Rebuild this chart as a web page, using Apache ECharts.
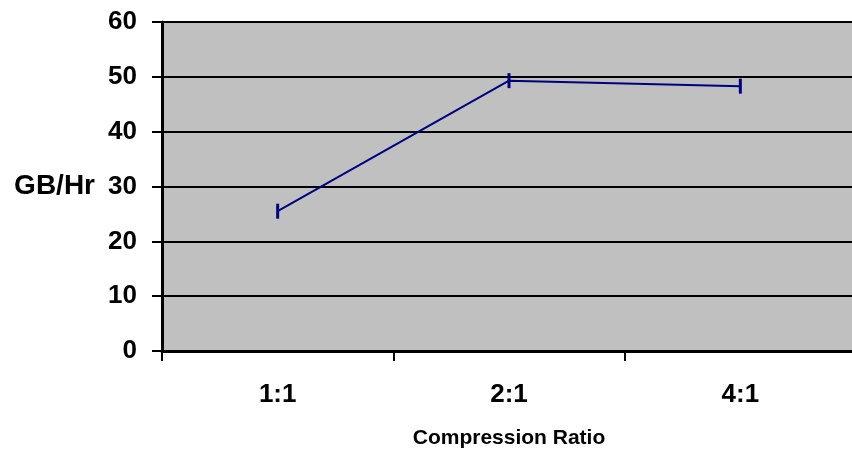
<!DOCTYPE html>
<html>
<head>
<meta charset="utf-8">
<script src="https://cdn.jsdelivr.net/npm/echarts@6/dist/echarts.min.js"></script>
<style>
  html, body { margin: 0; padding: 0; background: #ffffff; }
  #chart { width: 852px; height: 451px; }
</style>
</head>
<body>
<div id="chart"></div>
<script>
// Throughput by compression ratio
const ratios = ['1:1', '2:1', '4:1'];
const gbPerHour = [25.5, 49.3, 48.3];
const yTicks = { min: 0, max: 60, step: 10 };

const chart = echarts.init(document.getElementById('chart'), null, { renderer: 'canvas' });
const font = 'Liberation Sans, Arial, sans-serif';

chart.setOption({
  animation: false,
  backgroundColor: '#ffffff',
  grid: {
    left: 162, top: 22, width: 694, height: 329,
    outerBoundsMode: 'none',
    containLabel: false,
    show: true, backgroundColor: '#c0c0c0', borderWidth: 0
  },
  xAxis: {
    type: 'category',
    data: ratios,
    boundaryGap: true,
    axisLine: { lineStyle: { color: '#000', width: 3 } },
    axisTick: { show: true, length: 10, lineStyle: { color: '#000', width: 2 } },
    axisLabel: { color: '#000', fontFamily: font, fontWeight: 'bold', fontSize: 26, margin: 31 },
    splitLine: { show: false },
    name: 'Compression Ratio',
    nameLocation: 'middle',
    nameGap: 77,
    nameTextStyle: { color: '#000', fontFamily: font, fontWeight: 'bold', fontSize: 21 }
  },
  yAxis: {
    type: 'value',
    min: yTicks.min, max: yTicks.max, interval: yTicks.step,
    axisLine: { show: true, lineStyle: { color: '#000', width: 3 } },
    axisTick: { show: true, length: 10, lineStyle: { color: '#000', width: 2 } },
    axisLabel: { color: '#000', fontFamily: font, fontWeight: 'bold', fontSize: 26, margin: 25 },
    splitLine: { show: true, lineStyle: { color: '#000', width: 2 } },
    name: 'GB/Hr',
    nameLocation: 'middle',
    nameRotate: 0,
    nameGap: 67,
    nameTextStyle: { color: '#000', fontFamily: font, fontWeight: 'bold', fontSize: 28, align: 'right' }
  },
  series: [{
    type: 'line',
    data: gbPerHour,
    lineStyle: { color: '#000080', width: 2 },
    itemStyle: { color: '#000080' },
    symbol: 'rect',
    symbolSize: [3, 15],
    showAllSymbol: true
  }]
});
</script>
</body>
</html>
